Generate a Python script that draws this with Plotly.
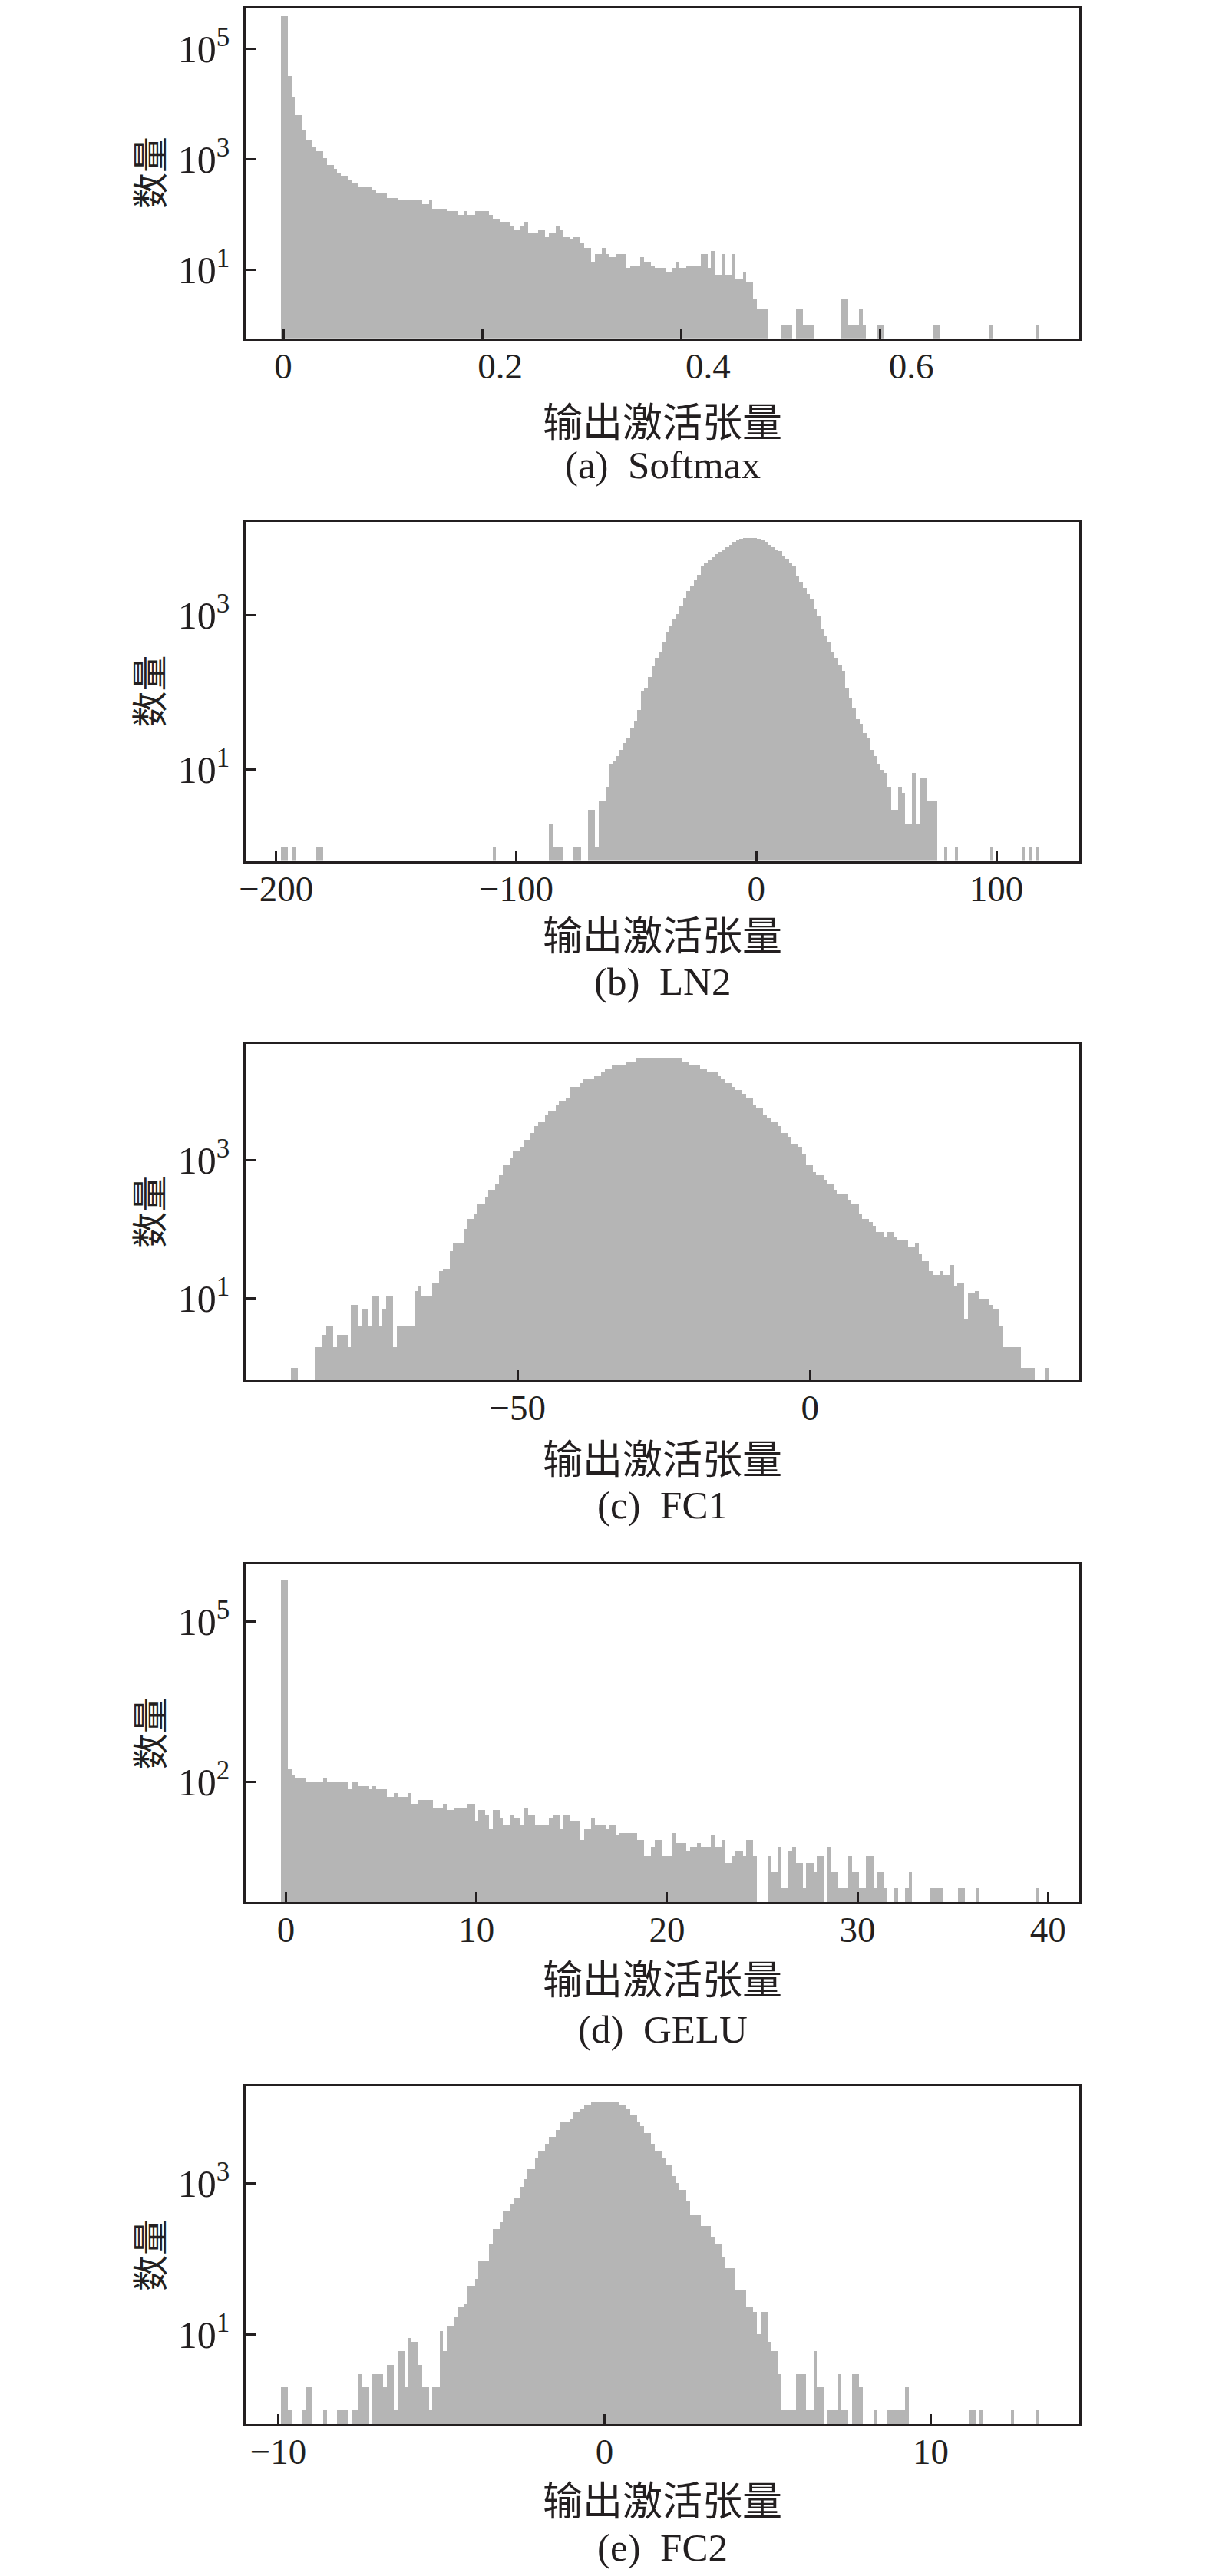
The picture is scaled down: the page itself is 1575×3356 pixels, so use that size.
import plotly.graph_objects as go

# ---------------- data (histogram counts, 215 bins each) ----------------
# (a) Softmax
A_LO, A_W = -0.00232, 0.0035467
A_COUNTS = [
    390000, 390000, 32100, 13200, 6260, 6260, 3400, 2170, 2170, 1630,
    1390, 1390, 1040, 778, 778, 663, 578, 497, 497, 423,
    372, 372, 317, 317, 317, 317, 279, 238, 238, 238,
    202, 202, 202, 178, 178, 178, 178, 178, 178, 178,
    152, 152, 178, 129, 129, 129, 129, 114, 114, 114,
    97, 97, 114, 97, 97, 114, 114, 114, 114, 97,
    85, 85, 73, 73, 73, 62, 54, 54, 62, 73,
    46, 46, 46, 54, 54, 39, 46, 46, 62, 54,
    39, 39, 35, 39, 39, 30, 25, 25, 14, 19,
    19, 25, 19, 17, 17, 19, 19, 19, 11, 12,
    12, 12, 17, 14, 14, 12, 11, 11, 11, 9,
    9, 11, 14, 11, 11, 12, 12, 12, 12, 19,
    19, 11, 22, 8, 8, 19, 8, 8, 19, 7,
    7, 9, 6, 6, 3, 2, 2, 2, 0, 0,
    0, 0, 1, 1, 1, 0, 2, 2, 1, 1,
    1, 0, 0, 0, 0, 0, 0, 0, 0, 3,
    3, 1, 1, 1, 2, 1, 0, 0, 0, 1,
    1, 0, 0, 0, 0, 0, 0, 0, 0, 0,
    0, 0, 0, 0, 0, 1, 1, 0, 0, 0,
    0, 0, 0, 0, 0, 0, 0, 0, 0, 0,
    0, 1, 0, 0, 0, 0, 0, 0, 0, 0,
    0, 0, 0, 0, 1,
]

# (b) LN2
B_LO, B_W = -197.95, 1.4688
B_COUNTS = [
    1, 1, 0, 1, 0, 0, 0, 0, 0, 0,
    1, 1, 0, 0, 0, 0, 0, 0, 0, 0,
    0, 0, 0, 0, 0, 0, 0, 0, 0, 0,
    0, 0, 0, 0, 0, 0, 0, 0, 0, 0,
    0, 0, 0, 0, 0, 0, 0, 0, 0, 0,
    0, 0, 0, 0, 0, 0, 0, 0, 0, 0,
    1, 0, 0, 0, 0, 0, 0, 0, 0, 0,
    0, 0, 0, 0, 0, 0, 2, 1, 1, 1,
    0, 0, 0, 1, 1, 0, 0, 3, 3, 1,
    4, 4, 6, 12, 13, 15, 18, 22, 26, 34,
    43, 60, 105, 115, 160, 220, 281, 342, 450, 596,
    740, 900, 1047, 1350, 1675, 2050, 2440, 2900, 3390, 4300,
    4700, 5180, 5700, 6250, 6700, 7190, 7700, 8280, 8900, 9530,
    9900, 10180, 10180, 10180, 10180, 9900, 9530, 9000, 8280, 7700,
    7200, 6880, 6000, 5400, 4700, 4300, 3200, 2700, 2250, 1900,
    1600, 1200, 1000, 660, 540, 450, 340, 281, 230, 190,
    115, 85, 62, 45, 39, 30, 26, 18, 15, 12,
    10, 9, 6, 3, 3, 6, 5, 2, 2, 9,
    2, 8, 8, 4, 4, 4, 0, 0, 1, 0,
    0, 1, 0, 0, 0, 0, 0, 0, 0, 0,
    0, 1, 0, 0, 0, 0, 0, 0, 0, 0,
    1, 0, 1, 0, 1,
]

# (c) FC1
C_LO, C_W = -88.75, 0.60276
C_COUNTS = [
    1, 1, 0, 0, 0, 0, 0, 2, 2, 3,
    4, 4, 2, 3, 3, 3, 2, 8, 8, 4,
    7, 7, 4, 11, 11, 4, 7, 11, 11, 2,
    4, 4, 4, 4, 4, 13, 15, 11, 11, 11,
    17, 17, 25, 27, 27, 49, 64, 64, 64, 101,
    144, 144, 164, 235, 235, 295, 372, 372, 468, 605,
    845, 845, 1092, 1375, 1375, 1563, 1968, 1968, 2478, 3120,
    3548, 3548, 4467, 5080, 5080, 6395, 7265, 7265, 8050, 11500,
    11500, 11500, 13070, 14860, 14860, 14860, 16450, 16450, 18700, 20700,
    20700, 23550, 23550, 23550, 23550, 26750, 26750, 26750, 29650, 29650,
    29650, 29650, 29650, 29650, 29650, 29650, 29650, 29650, 29650, 29650,
    29650, 26750, 26750, 23550, 23550, 23550, 20700, 20700, 18700, 18700,
    18700, 16450, 14860, 13070, 13070, 11500, 10370, 10370, 9140, 8050,
    8050, 6395, 5770, 5770, 4467, 4035, 3548, 3548, 3120, 2478,
    2478, 2230, 1730, 1730, 1563, 1208, 845, 845, 670, 605,
    605, 532, 468, 468, 372, 327, 327, 327, 260, 235,
    235, 164, 144, 144, 127, 114, 91, 91, 80, 91,
    91, 80, 70, 70, 70, 56, 56, 64, 44, 35,
    35, 25, 22, 22, 25, 22, 22, 31, 15, 17,
    17, 5, 12, 12, 13, 10, 10, 10, 8, 7,
    7, 4, 2, 2, 2, 2, 2, 1, 1, 1,
    1, 0, 0, 0, 1,
]

# (d) GELU
D_LO, D_W = -0.2619, 0.18505
D_COUNTS = [
    598000, 598000, 175, 130, 112, 112, 112, 96, 96, 96,
    96, 96, 112, 96, 96, 96, 96, 96, 96, 72,
    96, 96, 81, 81, 81, 72, 81, 72, 72, 72,
    52, 52, 61, 52, 52, 52, 61, 38, 38, 45,
    45, 45, 45, 32, 32, 32, 38, 29, 29, 32,
    32, 32, 32, 38, 38, 18, 29, 29, 24, 13,
    29, 29, 21, 15, 15, 24, 21, 21, 15, 32,
    24, 24, 15, 15, 15, 15, 21, 24, 24, 13,
    24, 24, 18, 18, 18, 8, 13, 13, 21, 15,
    15, 15, 13, 15, 15, 10, 11, 11, 11, 11,
    11, 8, 8, 4, 4, 6, 8, 8, 4, 4,
    4, 11, 7, 7, 7, 5, 6, 6, 7, 6,
    6, 6, 10, 6, 6, 8, 3, 3, 4, 5,
    5, 4, 8, 8, 4, 0, 0, 0, 4, 2,
    2, 6, 1, 1, 5, 6, 3, 3, 1, 3,
    3, 2, 4, 4, 0, 6, 2, 2, 1, 1,
    1, 4, 2, 2, 1, 1, 4, 4, 1, 2,
    2, 1, 0, 0, 1, 0, 0, 1, 2, 0,
    0, 0, 0, 0, 1, 1, 1, 1, 0, 0,
    0, 0, 1, 1, 0, 0, 0, 1, 0, 0,
    0, 0, 0, 0, 0, 0, 0, 0, 0, 0,
    0, 0, 0, 0, 1,
]

# (e) FC2
E_LO, E_W = -9.918, 0.10807
E_COUNTS = [
    2, 2, 1, 0, 0, 0, 1, 2, 2, 0,
    0, 0, 1, 0, 0, 0, 1, 1, 1, 0,
    1, 1, 3, 2, 2, 0, 3, 3, 3, 2,
    4, 4, 1, 6, 6, 2, 9, 8, 8, 4,
    2, 2, 1, 2, 2, 11, 6, 13, 13, 17,
    23, 23, 26, 44, 44, 55, 94, 94, 94, 160,
    250, 250, 309, 429, 429, 529, 654, 654, 906, 1145,
    1553, 1553, 2154, 2722, 2722, 3360, 4150, 4150, 5120, 6470,
    6470, 6470, 7110, 8780, 8780, 9860, 11090, 11090, 12170, 12170,
    12170, 12170, 12170, 12170, 12170, 12170, 11090, 11090, 9860, 7980,
    7980, 6470, 5750, 4670, 4670, 3360, 2722, 2722, 2154, 1745,
    1745, 1259, 1020, 826, 826, 595, 381, 381, 381, 275,
    275, 275, 198, 160, 160, 105, 76, 76, 76, 39,
    39, 39, 23, 23, 20, 10, 20, 20, 8, 6,
    6, 3, 1, 1, 1, 1, 3, 3, 3, 1,
    1, 6, 2, 2, 0, 1, 1, 1, 3, 1,
    1, 0, 3, 3, 2, 0, 0, 0, 1, 0,
    0, 0, 1, 1, 1, 1, 1, 2, 0, 0,
    0, 0, 0, 0, 0, 0, 0, 0, 0, 0,
    0, 0, 0, 0, 0, 1, 1, 0, 1, 0,
    0, 0, 0, 0, 0, 0, 0, 1, 0, 0,
    0, 0, 0, 0, 1,
]

# tick labels / captions
NB = "\u00a0"
A_XTICKS = [0, 0.2, 0.4, 0.6]
A_XTEXT = ["0", NB * 4 + "0.2", NB * 6 + "0.4", NB * 7 + "0.6"]
B_XTICKS = [-200, -100, 0, 100]
B_XTEXT = ["\u2212200", "\u2212100", "0", "100"]
C_XTICKS = [-50, 0]
C_XTEXT = ["\u221250", "0"]
D_XTICKS = [0, 10, 20, 30, 40]
D_XTEXT = ["0", "10", "20", "30", "40"]
E_XTICKS = [-10, 0, 10]
E_XTEXT = ["\u221210", "0", "10"]
Y_EXP_A = [1, 3, 5]
Y_EXP_B = [1, 3]
Y_EXP_C = [1, 3]
Y_EXP_D = [2, 5]
Y_EXP_E = [1, 3]
CAPTIONS = ["(a)" + NB * 2 + "Softmax", "(b)" + NB * 2 + "LN2", "(c)" + NB * 2 + "FC1",
            "(d)" + NB * 2 + "GELU", "(e)" + NB * 2 + "FC2"]
X_TITLE = "输出激活张量"
Y_TITLE = "数量"

# ---------------- layout / style (reference page pixels) ----------------
OFF = 8                      # html body margin
W, H = 1575 - 2 * OFF, 3356 - 2 * OFF
PL, PR = 320, 1406
BAR = "#b5b5b5"
INK = "#231f20"
SERIF = "Liberation Serif, Times New Roman, serif"
CJK = "Noto Sans CJK SC, sans-serif"


def fx(v):
    return (v - OFF) / W


def fy(v):
    return 1 - (v - OFF) / H


# per panel: plot box (top, bottom), x scale (px of 0, px per unit),
# y scale (px of count 1, px per decade), title / caption centre rows
panels = [
    dict(lo=A_LO, w=A_W, counts=A_COUNTS, top=OFF + 1.5, bot=440.7,
         x0=369.0, ppu=1295.0, y0=423.0, dec=72.0,
         xt=A_XTICKS, xtt=A_XTEXT, ye=Y_EXP_A, title_y=546, cap_y=606),
    dict(lo=B_LO, w=B_W, counts=B_COUNTS, top=679.7, bot=1121.5,
         x0=985.3, ppu=3.1275, y0=1103.0, dec=100.5,
         xt=B_XTICKS, xtt=B_XTEXT, ye=Y_EXP_B, title_y=1215, cap_y=1279),
    dict(lo=C_LO, w=C_W, counts=C_COUNTS, top=1359.5, bot=1798,
         x0=1055.3, ppu=7.62, y0=1781.2, dec=89.95,
         xt=C_XTICKS, xtt=C_XTEXT, ye=Y_EXP_C, title_y=1897, cap_y=1961),
    dict(lo=D_LO, w=D_W, counts=D_COUNTS, top=2038.3, bot=2478,
         x0=372.5, ppu=24.82, y0=2460.5, dec=69.67,
         xt=D_XTICKS, xtt=D_XTEXT, ye=Y_EXP_D, title_y=2575, cap_y=2644),
    dict(lo=E_LO, w=E_W, counts=E_COUNTS, top=2718.2, bot=3158,
         x0=787.5, ppu=42.5, y0=3140.0, dec=98.4,
         xt=E_XTICKS, xtt=E_XTEXT, ye=Y_EXP_E, title_y=3254, cap_y=3319),
]

fig = go.Figure()
layout = dict(
    width=W, height=H, margin=dict(l=0, r=0, t=0, b=0, autoexpand=False),
    paper_bgcolor="white", plot_bgcolor="white", showlegend=False,
    bargap=0, font=dict(family=SERIF, color=INK, size=46),
)
annotations = []
cx = fx((PL + PR) / 2)

for k, p in enumerate(panels):
    n = k + 1
    xa = "x" if n == 1 else f"x{n}"
    ya = "y" if n == 1 else f"y{n}"
    centers = [p["lo"] + (i + 0.5) * p["w"] for i in range(len(p["counts"]))]
    yv = [c if c > 0 else None for c in p["counts"]]
    fig.add_trace(go.Bar(
        x=centers, y=yv, width=p["w"], xaxis=xa, yaxis=ya,
        marker=dict(color=BAR, line=dict(width=0)), hoverinfo="skip",
    ))
    xr = [(PL - p["x0"]) / p["ppu"], (PR - p["x0"]) / p["ppu"]]
    yr = [(p["y0"] - p["bot"]) / p["dec"], (p["y0"] - p["top"]) / p["dec"]]
    axis_common = dict(
        showline=True, linecolor=INK, linewidth=2.7, mirror=True,
        ticks="inside", ticklen=13, tickwidth=2.6, tickcolor=INK,
        showgrid=False, zeroline=False, automargin=False,
    )
    layout["xaxis" if n == 1 else f"xaxis{n}"] = dict(
        domain=[fx(PL), fx(PR)], range=xr, anchor=ya,
        tickmode="array", tickvals=p["xt"], ticktext=p["xtt"],
        tickfont=dict(family=SERIF, size=47, color=INK),
        ticklabelstandoff=-7, **axis_common,
    )
    layout["yaxis" if n == 1 else f"yaxis{n}"] = dict(
        domain=[fy(p["bot"]), min(1.0, fy(p["top"]))], range=yr, type="log", anchor=xa,
        tickmode="array", tickvals=[10 ** e for e in p["ye"]],
        ticktext=[f"10<sup>{e}</sup>" for e in p["ye"]],
        tickfont=dict(family=SERIF, size=50, color=INK),
        ticklabelstandoff=8, **axis_common,
    )
    annotations.append(dict(
        text=X_TITLE, xref="paper", yref="paper", x=cx, y=fy(p["title_y"]),
        xanchor="center", yanchor="middle", showarrow=False,
        font=dict(family=CJK, size=52, color=INK),
    ))
    annotations.append(dict(
        text=CAPTIONS[k], xref="paper", yref="paper", x=cx, y=fy(p["cap_y"]),
        xanchor="center", yanchor="middle", showarrow=False,
        font=dict(family=SERIF, size=51, color=INK),
    ))
    annotations.append(dict(
        text=Y_TITLE, xref="paper", yref="paper", x=fx(192),
        y=fy((p["top"] + p["bot"]) / 2), textangle=-90,
        xanchor="center", yanchor="middle", showarrow=False,
        font=dict(family=CJK, size=47, color=INK),
    ))

layout["annotations"] = annotations
fig.update_layout(**layout)
fig.write_html("out.html")
